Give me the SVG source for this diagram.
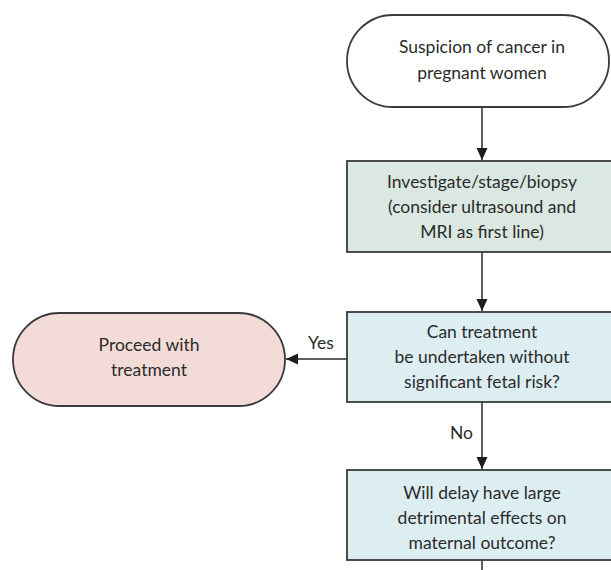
<svg xmlns="http://www.w3.org/2000/svg" width="611" height="570" viewBox="0 0 611 570">
<defs>
<style>
.t{font-family:Lato,"Open Sans","Liberation Sans",sans-serif;font-size:17.5px;fill:#2b2b2b;text-anchor:middle}
.lbl{font-family:Lato,"Open Sans","Liberation Sans",sans-serif;font-size:17.5px;fill:#2b2b2b}
.box{stroke:#3a3a3a;stroke-width:1.8}
.ln{stroke:#2b2b2b;stroke-width:1.5;fill:none}
</style>
<marker id="ah" viewBox="0 0 12 12" refX="12" refY="6" markerWidth="12" markerHeight="12" markerUnits="userSpaceOnUse" orient="auto">
<path d="M0,0.5 L12,6 L0,11.5 z" fill="#1e1e1e"/>
</marker>
</defs>
<rect width="611" height="570" fill="#ffffff"/>
<g id="connectors">
<line class="ln" x1="482" y1="107" x2="482" y2="160" marker-end="url(#ah)"/>
<line class="ln" x1="482" y1="252" x2="482" y2="311" marker-end="url(#ah)"/>
<line class="ln" x1="482" y1="402" x2="482" y2="469" marker-end="url(#ah)"/>
<line class="ln" x1="347" y1="359" x2="286" y2="359" marker-end="url(#ah)"/>
<line class="ln" x1="482" y1="560" x2="482" y2="572"/>
<text class="lbl" x="308" y="349">Yes</text>
<text class="lbl" x="450" y="439">No</text>
</g>
<g id="start">
<rect class="box" x="347" y="15" width="262" height="92" rx="46" ry="46" fill="#ffffff"/>
<text class="t" x="482" y="53">Suspicion of cancer in</text>
<text class="t" x="482" y="79">pregnant women</text>
</g>
<g id="investigate">
<rect class="box" x="347" y="161" width="280" height="91" fill="#dbe8e2"/>
<text class="t" x="482" y="188">Investigate/stage/biopsy</text>
<text class="t" x="482" y="213">(consider ultrasound and</text>
<text class="t" x="482" y="238">MRI as first line)</text>
</g>
<g id="fetal-risk">
<rect class="box" x="347" y="312" width="280" height="90" fill="#ddeef3"/>
<text class="t" x="482" y="338">Can treatment</text>
<text class="t" x="482" y="363">be undertaken without</text>
<text class="t" x="482" y="388">significant fetal risk?</text>
</g>
<g id="proceed">
<rect class="box" x="13" y="313" width="272" height="93" rx="46.5" ry="46.5" fill="#f3dcd8"/>
<text class="t" x="149" y="351">Proceed with</text>
<text class="t" x="149" y="376">treatment</text>
</g>
<g id="delay">
<rect class="box" x="347" y="470" width="280" height="90" fill="#ddeef3"/>
<text class="t" x="482" y="499">Will delay have large</text>
<text class="t" x="482" y="524">detrimental effects on</text>
<text class="t" x="482" y="549">maternal outcome?</text>
</g>
</svg>
